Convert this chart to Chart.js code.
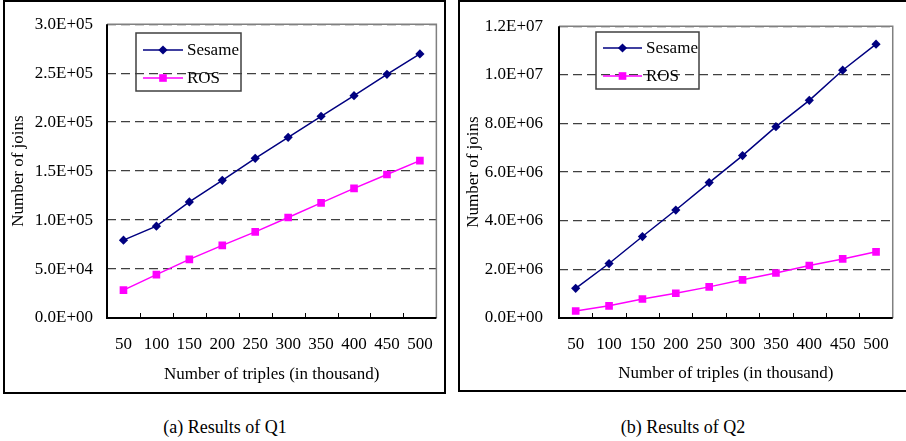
<!DOCTYPE html>
<html>
<head>
<meta charset="utf-8">
<script src="https://cdn.jsdelivr.net/npm/chart.js@4"></script>
<style>
  html, body { margin: 0; padding: 0; background: #fff; }
  body { width: 906px; height: 441px; position: relative; overflow: hidden; font-family: "Liberation Serif", "Times New Roman", serif; }
  .box { position: absolute; border: 2px solid #000; box-sizing: border-box; }
  .cap { position: absolute; font-size: 18px; color: #000; transform: translate(-50%, -50%); white-space: nowrap; }
  canvas { position: absolute; top: 0; }
</style>
</head>
<body>
<div class="box" style="left:3px;top:0px;width:443px;height:394px;"></div>
<div class="box" style="left:458px;top:0px;width:460px;height:392px;"></div>
<canvas id="c1" width="450" height="400" style="left:0px;"></canvas>
<canvas id="c2" width="456" height="400" style="left:450px;"></canvas>
<div class="cap" style="left:225px;top:427px;">(a) Results of Q1</div>
<div class="cap" style="left:683px;top:427px;">(b) Results of Q2</div>
<script>
const categories = ['50','100','150','200','250','300','350','400','450','500'];
const seriesNames = ['Sesame','ROS'];
const q1Sesame = [79500, 93800, 118500, 140600, 163000, 184500, 206000, 227000, 248800, 269600];
const q1ROS = [28500, 44300, 59900, 74100, 88000, 102600, 117500, 132300, 146500, 160700];
const q2Sesame = [1220000, 2240000, 3350000, 4440000, 5570000, 6680000, 7870000, 8950000, 10190000, 11260000];
const q2ROS = [290000, 500000, 780000, 1020000, 1280000, 1570000, 1850000, 2160000, 2430000, 2720000];
const q1YTicks = ['0.0E+00','5.0E+04','1.0E+05','1.5E+05','2.0E+05','2.5E+05','3.0E+05'];
const q2YTicks = ['0.0E+00','2.0E+06','4.0E+06','6.0E+06','8.0E+06','1.0E+07','1.2E+07'];
const xTitle = 'Number of triples (in thousand)';
const yTitle = 'Number of joins';

const FONT = '"Liberation Serif", "Times New Roman", Times, serif';
const NAVY = '#000080';
const MAGENTA = '#FF00FF';

function drawMarker(ctx, style, x, y, r, color) {
  ctx.save();
  ctx.fillStyle = color;
  ctx.beginPath();
  if (style === 'rectRot') {
    ctx.moveTo(x, y - r); ctx.lineTo(x + r, y); ctx.lineTo(x, y + r); ctx.lineTo(x - r, y);
  } else {
    const s = r * Math.SQRT1_2;
    ctx.rect(x - s, y - s, 2 * s, 2 * s);
  }
  ctx.closePath();
  ctx.fill();
  ctx.restore();
}

const framePlugin = {
  id: 'frame',
  beforeDatasetsDraw(chart) {
    const {ctx, chartArea: a} = chart;
    ctx.save();
    ctx.strokeStyle = '#808080';
    ctx.lineWidth = 1.5;
    ctx.beginPath();
    ctx.moveTo(a.left, a.top); ctx.lineTo(a.right, a.top); ctx.lineTo(a.right, a.bottom);
    ctx.stroke();
    ctx.strokeStyle = '#000';
    ctx.lineWidth = 2;
    ctx.beginPath();
    ctx.moveTo(a.left, a.top); ctx.lineTo(a.left, a.bottom); ctx.lineTo(a.right, a.bottom);
    ctx.stroke();
    const xs = chart.scales.x;
    const n = chart.data.labels.length;
    ctx.lineWidth = 1;
    ctx.beginPath();
    for (let i = 1; i < n; i++) {
      const px = Math.round((xs.getPixelForValue(i - 1) + xs.getPixelForValue(i)) / 2) + 0.5;
      ctx.moveTo(px, a.bottom);
      ctx.lineTo(px, a.bottom - 5);
    }
    ctx.stroke();
    ctx.restore();
  },
  afterDraw(chart) {
    const o = chart.options.plugins.boxLegend;
    if (!o) return;
    const {ctx} = chart;
    ctx.save();
    ctx.strokeStyle = '#404040';
    ctx.lineWidth = 1.5;
    ctx.strokeRect(o.x, o.y, o.w, o.h);
    ctx.font = '17px ' + FONT;
    ctx.textBaseline = 'middle';
    ctx.textAlign = 'left';
    chart.data.datasets.forEach((ds, i) => {
      const y = o.rows[i];
      ctx.strokeStyle = ds.borderColor;
      ctx.lineWidth = 1.5;
      ctx.beginPath();
      ctx.moveTo(o.lx1, y); ctx.lineTo(o.lx2, y);
      ctx.stroke();
      drawMarker(ctx, ds.pointStyle, (o.lx1 + o.lx2) / 2, y, ds.pointRadius, ds.borderColor);
      ctx.fillStyle = '#000';
      ctx.fillText(ds.label, o.tx, y + 1);
    });
    ctx.restore();
  }
};

function makeChart(id, sesame, ros, yMax, yStep, yTicks, geo) {
  return new Chart(document.getElementById(id), {
    type: 'line',
    data: {
      labels: categories,
      datasets: [
        { label: seriesNames[0], data: sesame, borderColor: NAVY, backgroundColor: NAVY,
          borderWidth: 1.5, pointStyle: 'rectRot', pointRadius: 4.6, pointBackgroundColor: NAVY,
          pointBorderWidth: 0, tension: 0, fill: false },
        { label: seriesNames[1], data: ros, borderColor: MAGENTA, backgroundColor: MAGENTA,
          borderWidth: 1.5, pointStyle: 'rect', pointRadius: 5.4, pointBackgroundColor: MAGENTA,
          pointBorderWidth: 0, tension: 0, fill: false }
      ]
    },
    options: {
      responsive: false,
      animation: false,
      events: [],
      layout: { padding: { top: geo.top, right: geo.right, left: 0, bottom: 0 } },
      plugins: {
        legend: { display: false },
        tooltip: { enabled: false },
        boxLegend: geo.legend
      },
      scales: {
        x: {
          type: 'category',
          offset: true,
          grid: { display: false, drawTicks: false },
          border: { display: false },
          ticks: { color: '#000', font: { family: FONT, size: 17 }, padding: geo.xLabelPad,
                   maxRotation: 0, autoSkip: false },
          title: { display: true, text: xTitle, color: '#000', font: { family: FONT, size: 17 },
                   padding: { top: 0, bottom: geo.xTitlePad } },
          afterFit(s) { s.height = 82; }
        },
        y: {
          min: 0, max: yMax,
          grid: { color: '#404040', lineWidth: 1.3, drawTicks: false },
          border: { display: false, dash: [9, 5] },
          ticks: { stepSize: yStep, color: '#000', font: { family: FONT, size: 17 }, padding: geo.yLabelPad,
                   callback: (v, i) => yTicks[i] },
          title: { display: true, text: yTitle, color: '#000', font: { family: FONT, size: 17 },
                   padding: { top: geo.yTitlePad, bottom: 0 } },
          afterFit(s) { s.width = geo.yWidth; }
        }
      }
    },
    plugins: [framePlugin]
  });
}

makeChart('c1', q1Sesame, q1ROS, 300000, 50000, q1YTicks, {
  top: 15, right: 11, yWidth: 107, yLabelPad: 14, yTitlePad: 8.8, xLabelPad: 16.8, xTitlePad: 14.8,
  legend: { x: 136, y: 33, w: 105, h: 58, rows: [50, 78], lx1: 143, lx2: 183, tx: 187 }
});
makeChart('c2', q2Sesame, q2ROS, 12000000, 2000000, q2YTicks, {
  top: 16, right: 8, yWidth: 109, yLabelPad: 16, yTitlePad: 13.8, xLabelPad: 16.8, xTitlePad: 15.8,
  legend: { x: 146, y: 32, w: 103, h: 57, rows: [48, 76], lx1: 153, lx2: 192, tx: 196 }
});
</script>
</body>
</html>
